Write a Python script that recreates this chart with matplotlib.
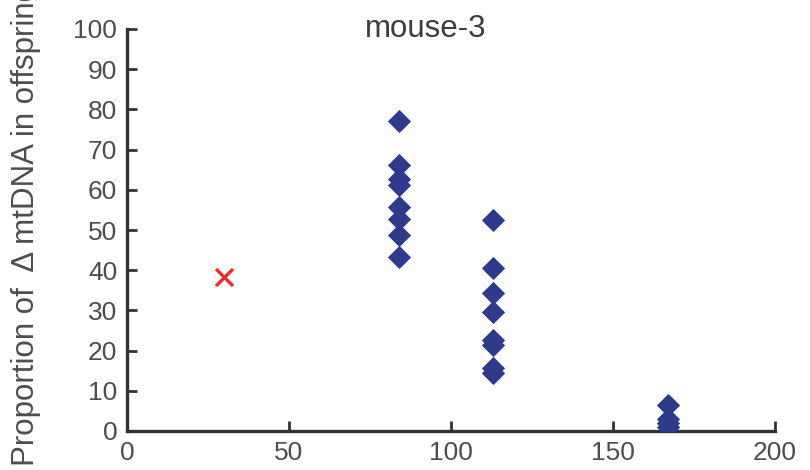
import matplotlib
matplotlib.use("Agg")
import matplotlib.pyplot as plt

plt.rcParams['font.family'] = ['Liberation Sans', 'DejaVu Sans']

# Data
cross_x = [30]
cross_y = [38.4]
diamond_x = [84] * 8 + [113] * 8 + [167] * 4
diamond_y = [77.2, 66.2, 62.8, 61.2, 55.8, 52.7, 48.8, 43.4,
             52.5, 40.5, 34.4, 29.7, 22.6, 21.5, 15.6, 14.5,
             6.5, 3.0, 2.0, 1.0]
x_ticks = [0, 50, 100, 150, 200]
y_ticks = list(range(0, 101, 10))

fig = plt.figure(figsize=(8.1, 4.7), dpi=100)
ax = fig.add_axes([127/810, 1-431/470, (775-127)/810, (431-29)/470])

ax.scatter(diamond_x, diamond_y, marker='D', s=140, color='#2e3a8c', zorder=3, linewidths=0)
ax.scatter(cross_x, cross_y, marker='x', s=150, color='#e8302a', linewidths=2.4, zorder=3)

ax.set_xlim(0, 200)
ax.set_ylim(0, 100)
ax.set_xticks(x_ticks)
ax.set_yticks(y_ticks)
for s in ['top', 'right']:
    ax.spines[s].set_visible(False)
for s in ['left', 'bottom']:
    ax.spines[s].set_linewidth(2.4)
    ax.spines[s].set_color('#333333')
ax.tick_params(direction='in', length=7, width=2, color='#333333',
               labelsize=19, labelcolor='#4d4d4d', pad=7)

fig.text(426/810, 1-29/470, 'mouse-3', ha='center', va='center', fontsize=22.5, color='#3d3d3d')
fig.text(26/810, 4/470, 'Proportion of  Δ mtDNA in offspring', rotation=90,
         ha='center', va='bottom', fontsize=22.5, color='#4d4d4d')

fig.savefig('out.png', dpi=100)
